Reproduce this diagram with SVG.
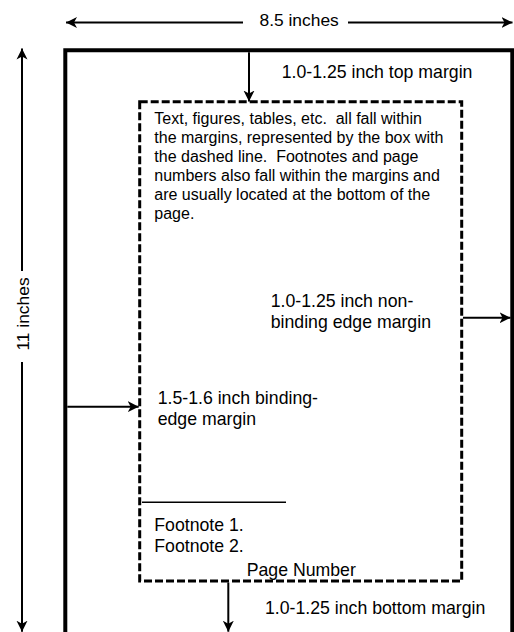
<svg xmlns="http://www.w3.org/2000/svg" width="514" height="632" viewBox="0 0 514 632">
  <style>
    .lbl { font-family: "Liberation Sans", Arial, sans-serif; font-size: 17.7px; fill: #000; }
    .body { font-family: "Liberation Sans", Arial, sans-serif; font-size: 16px; fill: #000; }
    .conn { stroke: #000; stroke-width: 2; fill: none; marker-end: url(#ah); }
  </style>
  <defs>
    <marker id="ah" markerWidth="12" markerHeight="12" refX="11" refY="6" orient="auto" markerUnits="userSpaceOnUse" viewBox="0 0 12 12">
      <path d="M0,0.5 L11,6 L0,11.5 L3,6 Z" fill="#000"/>
    </marker>
  </defs>
  <rect width="514" height="632" fill="#fff"/>

  <g id="page">
    <path d="M65.3,640 V50.3 H512.3 V640" fill="none" stroke="#000" stroke-width="4"/>
  </g>

  <g id="content-box">
    <rect x="139.7" y="101.7" width="322" height="479.3" fill="none" stroke="#000" stroke-width="3" stroke-dasharray="8 3"/>
    <text class="body" xml:space="preserve"><tspan x="154.3" y="124">Text, figures, tables, etc.  all fall within</tspan><tspan x="154.3" y="143">the margins, represented by the box with</tspan><tspan x="154.3" y="162">the dashed line.  Footnotes and page</tspan><tspan x="154.3" y="181">numbers also fall within the margins and</tspan><tspan x="154.3" y="200">are usually located at the bottom of the</tspan><tspan x="154.3" y="219">page.</tspan></text>
  </g>

  <g id="footnotes">
    <line x1="142" y1="502.3" x2="286" y2="502.3" stroke="#000" stroke-width="1.5"/>
    <text class="lbl" x="154.3" y="531">Footnote 1.</text>
    <text class="lbl" x="154.3" y="552">Footnote 2.</text>
  </g>

  <g id="page-number">
    <text class="lbl" x="246.7" y="576">Page Number</text>
  </g>

  <g id="width-label">
    <text class="lbl" x="259.5" y="25.5" style="font-size:17.4px">8.5 inches</text>
  </g>

  <g id="height-label">
    <text class="lbl" transform="translate(28.8,314) rotate(-90)" text-anchor="middle" style="font-size:17.4px">11 inches</text>
  </g>

  <g id="top-margin-label">
    <text class="lbl" x="281.7" y="78">1.0-1.25 inch top margin</text>
  </g>

  <g id="nonbinding-label">
    <text class="lbl"><tspan x="270.7" y="306.7">1.0-1.25 inch non-</tspan><tspan x="270.7" y="327.7">binding edge margin</tspan></text>
  </g>

  <g id="binding-label">
    <text class="lbl"><tspan x="157.7" y="404.3">1.5-1.6 inch binding-</tspan><tspan x="157.7" y="425.3">edge margin</tspan></text>
  </g>

  <g id="bottom-margin-label">
    <text class="lbl" x="265" y="614.4">1.0-1.25 inch bottom margin</text>
  </g>

  <g id="connectors">
    <line class="conn" x1="243" y1="22.5" x2="66" y2="22.5"/>
    <line class="conn" x1="348" y1="22.5" x2="512.5" y2="22.5"/>
    <line class="conn" x1="22" y1="271" x2="22" y2="48.5"/>
    <line class="conn" x1="22" y1="362" x2="22" y2="631.7"/>
    <line class="conn" x1="249" y1="52.3" x2="249" y2="101.5"/>
    <line class="conn" x1="463" y1="317.7" x2="510.5" y2="317.7"/>
    <line class="conn" x1="67.3" y1="406.7" x2="138.7" y2="406.7"/>
    <line class="conn" x1="228.3" y1="582.5" x2="228.3" y2="631.7"/>
  </g>
</svg>
